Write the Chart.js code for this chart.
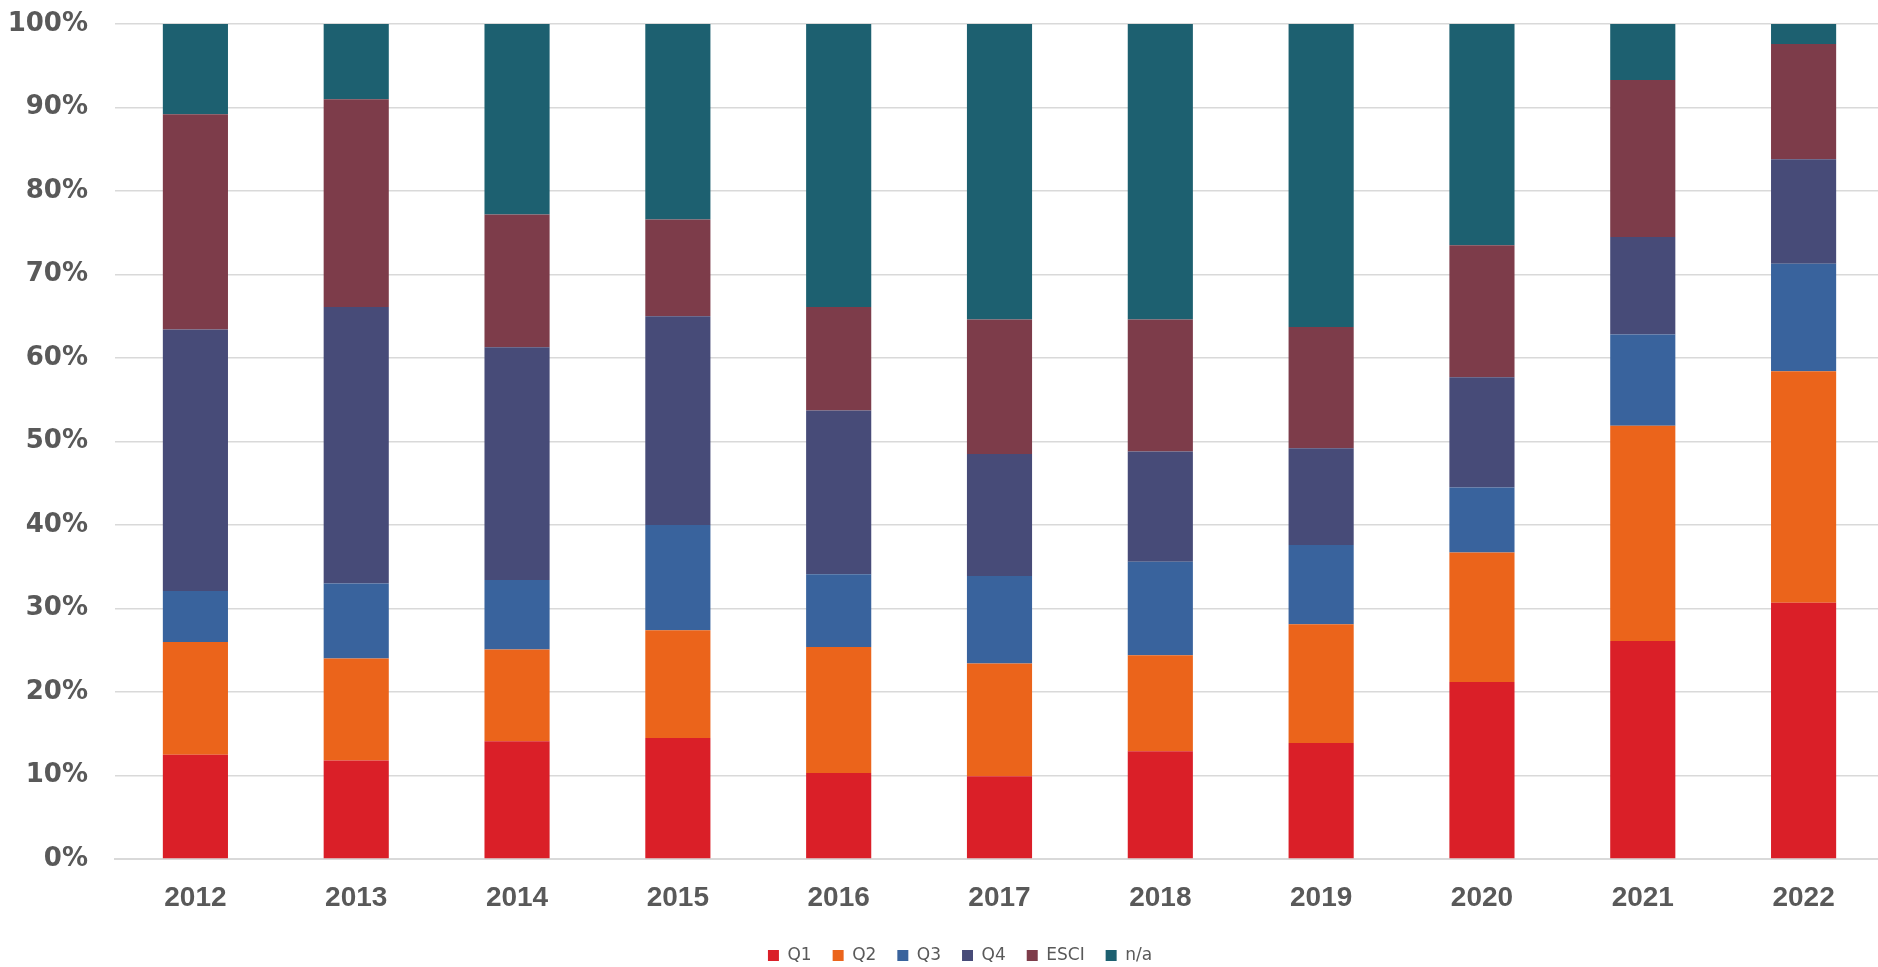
<!DOCTYPE html>
<html>
<head>
<meta charset="utf-8">
<script src="https://cdn.jsdelivr.net/npm/chart.js@4"></script>
<style>
html,body{margin:0;padding:0;overflow:hidden;background:#fff;}
#wrap{width:1884px;height:967px;}
</style>
</head>
<body>
<div id="wrap"><canvas id="c" width="1884" height="967"></canvas></div>
<script>
const years = ['2012','2013','2014','2015','2016','2017','2018','2019','2020','2021','2022'];
const q1   = [12.5, 11.8, 14.1, 14.5, 10.3,  9.9, 12.9, 13.9, 21.2, 26.1, 30.7];
const q2   = [13.5, 12.2, 11.0, 12.9, 15.1, 13.5, 11.5, 14.2, 15.5, 25.8, 27.7];
const q3   = [ 6.1,  9.0,  8.3, 12.6,  8.7, 10.5, 11.2,  9.5,  7.8, 10.9, 12.9];
const q4   = [31.3, 33.1, 27.9, 25.0, 19.6, 14.6, 13.2, 11.6, 13.2, 11.7, 12.5];
const esci = [25.8, 24.9, 15.9, 11.6, 12.4, 16.1, 15.8, 14.5, 15.8, 18.8, 13.8];
const na   = [10.8,  9.0, 22.8, 23.4, 33.9, 35.4, 35.4, 36.3, 26.5,  6.7,  2.4];
const seriesNames = ['Q1','Q2','Q3','Q4','ESCI','n/a'];
const seriesColors = ['#DA1F28','#EB641B','#39639D','#474B78','#7D3C4A','#1D6070'];
const seriesData = [q1,q2,q3,q4,esci,na];

const legendShift = {
  id: 'legendShift',
  afterLayout(chart) {
    if (chart.legend) { chart.legend.left += 18; chart.legend.right += 18; }
  }
};

Chart.defaults.font.family = "'DejaVu Sans', sans-serif";
new Chart(document.getElementById('c'), {
  type: 'bar',
  data: {
    labels: years,
    datasets: seriesNames.map((n,i)=>({
      label: n,
      data: seriesData[i],
      backgroundColor: seriesColors[i],
      borderWidth: 0,
      categoryPercentage: 1,
      barPercentage: 0.405
    }))
  },
  plugins: [legendShift],
  options: {
    responsive: false,
    devicePixelRatio: 1,
    animation: false,
    layout: { padding: { left: 0, top: 24, right: 0, bottom: -7 } },
    plugins: {
      tooltip: { enabled: false },
      legend: {
        position: 'bottom',
        labels: {
          boxWidth: 11, boxHeight: 11, padding: 21,
          color: '#595959',
          font: { size: 17, family: "'DejaVu Sans', sans-serif" }
        }
      }
    },
    scales: {
      x: {
        stacked: true,
        grid: { display: false, drawTicks: false },
        border: { display: true, color: '#d9d9d9', width: 2 },
        ticks: { color: '#595959', padding: 22, font: { size: 28, weight: 'bold', family: "'Liberation Sans', sans-serif" } },
        afterFit: s => { s.height = 67; s.paddingLeft = 0; s.paddingRight = 0; }
      },
      y: {
        stacked: true,
        min: 0, max: 100,
        grid: { color: '#d9d9d9', lineWidth: 1.5, drawTicks: false },
        border: { display: false },
        ticks: {
          stepSize: 10, padding: 27, color: '#595959',
          font: { size: 26, weight: 'bold', family: "'DejaVu Sans', sans-serif" },
          callback: v => v + '%'
        },
        afterFit: s => { s.width = 115; s.paddingTop = 0; s.paddingBottom = 0; }
      }
    }
  }
});
</script>
</body>
</html>
